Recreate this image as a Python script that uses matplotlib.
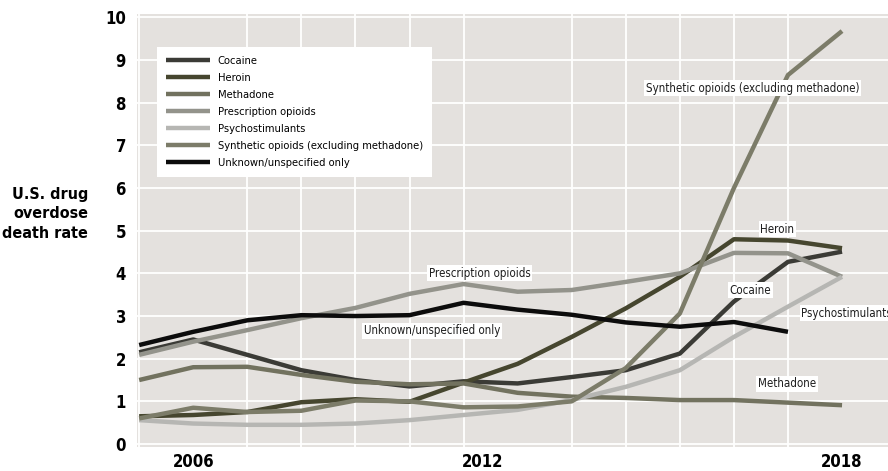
import numpy as np
import matplotlib
matplotlib.use("Agg")
import matplotlib.pyplot as plt
import matplotlib.transforms as mtransforms

plt.rcParams['font.family'] = ['DejaVu Sans']
plt.rcParams['font.stretch'] = 'condensed'

# data (deaths per 100,000)
years = list(range(2005, 2019))
cocaine = [2.15, 2.45, 2.09, 1.73, 1.5, 1.35, 1.47, 1.42, 1.57, 1.73, 2.12, 3.34, 4.27, 4.51]
heroin = [0.65, 0.68, 0.75, 0.98, 1.05, 0.99, 1.44, 1.88, 2.51, 3.18, 3.92, 4.8, 4.77, 4.59]
methadone = [1.5, 1.8, 1.81, 1.62, 1.46, 1.4, 1.42, 1.2, 1.11, 1.08, 1.03, 1.03, 0.97, 0.91]
rx_opioids = [2.09, 2.4, 2.67, 2.95, 3.19, 3.52, 3.75, 3.57, 3.61, 3.8, 4.0, 4.48, 4.47, 3.92]
psychostim = [0.56, 0.48, 0.45, 0.45, 0.48, 0.56, 0.68, 0.8, 1.03, 1.34, 1.73, 2.51, 3.22, 3.92]
synthetic = [0.6, 0.85, 0.75, 0.78, 1.02, 1.0, 0.86, 0.88, 1.0, 1.78, 3.06, 6.0, 8.65, 9.68]
unknown = [2.32, 2.63, 2.9, 3.02, 3.0, 3.02, 3.31, 3.15, 3.03, 2.85, 2.75, 2.86, 2.63, np.nan]

series = [
    ("Cocaine", cocaine, "#3b3b36"),
    ("Heroin", heroin, "#46462f"),
    ("Methadone", methadone, "#72725f"),
    ("Prescription opioids", rx_opioids, "#93938b"),
    ("Psychostimulants", psychostim, "#b6b6b3"),
    ("Synthetic opioids (excluding methadone)", synthetic, "#7c7c69"),
    ("Unknown/unspecified only", unknown, "#0c0c0c"),
]

# in-chart labels: text, x, y, alignment
labels = [
    ("Synthetic opioids (excluding methadone)", 2016.35, 8.34, "center"),
    ("Heroin", 2016.8, 5.04, "center"),
    ("Prescription opioids", 2011.3, 4.0, "center"),
    ("Unknown/unspecified only", 2010.42, 2.65, "center"),
    ("Cocaine", 2016.3, 3.61, "center"),
    ("Psychostimulants", 2017.25, 3.07, "left"),
    ("Methadone", 2016.98, 1.41, "center"),
]

fig = plt.figure(figsize=(8.88, 4.71), dpi=100)
ax = fig.add_axes([137 / 888, 1 - 447 / 471, 1 - 137 / 888, 433 / 471])
ax.set_facecolor("#e4e1de")

for name, vals, col in series:
    ax.plot(years, vals, color=col, lw=3.2, label=name, solid_capstyle="butt")

for txt, x, y, ha in labels:
    ax.text(x, y, txt, ha=ha, va="center", fontsize=8.3, color="#1e1e1e",
            bbox=dict(facecolor="white", edgecolor="none", pad=1.2), zorder=5)

ax.set_xlim(2004.96, 2018.85)
ax.set_ylim(-0.07, 10.08)
ax.set_xticks(years, minor=True)
ax.set_xticks([2006, 2012, 2018])
ax.set_xticklabels(["2006", "2012", "2018"], fontsize=12, fontweight="bold")
ax.set_yticks(range(0, 11))
ax.set_yticklabels([str(i) for i in range(0, 11)], fontsize=12, fontweight="bold")
ax.tick_params(which="both", length=0)
ax.tick_params(axis="y", pad=8)
ax.tick_params(axis="x", pad=4)
ax.grid(True, which="minor", axis="x", color="white", lw=1.3)
ax.grid(True, which="major", axis="y", color="white", lw=1.3)
ax.set_axisbelow(True)
for s in ax.spines.values():
    s.set_visible(False)

# the 2012 label sits a bit left of its gridline in the original
shift = mtransforms.ScaledTranslation(-35 / 100, 0, fig.dpi_scale_trans)
lab = ax.get_xticklabels()[1]
lab.set_transform(lab.get_transform() + shift)

fig.text(88 / 888, 1 - 214 / 471, "U.S. drug\noverdose\ndeath rate", ha="right", va="center",
         fontsize=11.5, fontweight="bold", linespacing=1.4)

leg = ax.legend(loc="upper left", bbox_to_anchor=(0.0266, 0.924), fontsize=8,
                frameon=True, fancybox=False, framealpha=1, handlelength=3.9,
                labelspacing=0.62, borderpad=0.85, handletextpad=0.7, borderaxespad=0)
leg.get_frame().set_edgecolor("none")
leg.get_frame().set_facecolor("white")

fig.savefig("out.png", dpi=100)
